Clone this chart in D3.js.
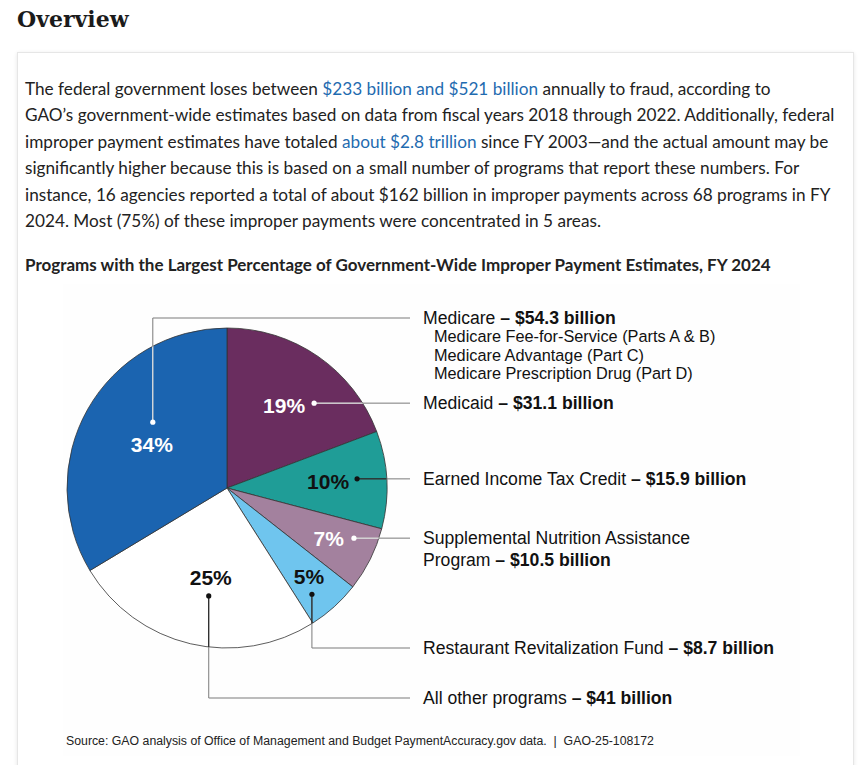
<!DOCTYPE html>
<html lang="en">
<head>
<meta charset="UTF-8">
<title>Overview - Improper Payments FY 2024</title>
<script src="https://d3js.org/d3.v7.min.js"></script>
<style>
    body {
        margin: 0;
        background: #fff;
        width: 858px;
        height: 765px;
        overflow: hidden;
        position: relative;
    }
    h2 {
        position: absolute;
        left: 17px;
        top: 6px;
        margin: 0;
        font-family: "DejaVu Serif", serif;
        font-weight: bold;
        font-size: 22px;
        color: #1b1b1b;
    }
    .card {
        position: absolute;
        left: 17px;
        top: 52px;
        width: 835px;
        height: 760px;
        border: 1px solid #e6e6e6;
        box-shadow: 0 1px 4px rgba(0,0,0,0.10);
        background: #fff;
    }
    .intro {
        position: absolute;
        left: 25px;
        top: 76px;
        font-family: Lato, sans-serif;
        font-size: 17.2px;
        line-height: 26.4px;
        color: #222;
        white-space: nowrap;
    }
    .intro a {
        color: #1f6bb0;
        text-decoration: none;
    }
    .chart-title {
        position: absolute;
        left: 25px;
        top: 254px;
        font-family: Lato, sans-serif;
        font-weight: bold;
        font-size: 17px;
        line-height: 22px;
        color: #222;
        white-space: nowrap;
    }
    #chart {
        position: absolute;
        left: 0;
        top: 0;
    }
</style>
</head>
<body>
    <h2>Overview</h2>
    <div class="card"></div>
    <div class="intro">
        The federal government loses between <a href="#">$233 billion and $521 billion</a> annually to fraud, according to<br>
        GAO’s government-wide estimates based on data from fiscal years 2018 through 2022. Additionally, federal<br>
        improper payment estimates have totaled <a href="#">about $2.8 trillion</a> since FY 2003—and the actual amount may be<br>
        significantly higher because this is based on a small number of programs that report these numbers. For<br>
        instance, 16 agencies reported a total of about $162 billion in improper payments across 68 programs in FY<br>
        2024. Most (75%) of these improper payments were concentrated in 5 areas.
    </div>
    <div class="chart-title">Programs with the Largest Percentage of Government-Wide Improper Payment Estimates, FY 2024</div>
    <svg id="chart" width="858" height="765"></svg>

<script>
    // Data, clockwise from 12 o'clock
    const programs = ["Medicaid", "Earned Income Tax Credit", "Supplemental Nutrition Assistance\nProgram",
                      "Restaurant Revitalization Fund", "All other programs", "Medicare"];
    const amounts = [31.1, 15.9, 10.5, 8.7, 41, 54.3];           // $ billions
    const shares = ["19%", "10%", "7%", "5%", "25%", "34%"];
    const medicareParts = ["Medicare Fee-for-Service (Parts A & B)",
                           "Medicare Advantage (Part C)",
                           "Medicare Prescription Drug (Part D)"];
    const sourceNote = "Source: GAO analysis of Office of Management and Budget PaymentAccuracy.gov data.  |  GAO-25-108172";

    const colors = ["#6a2d5f", "#1f9d97", "#a3819e", "#6fc5ee", "#ffffff", "#1b64b0"];

    // label layout: where the dot sits inside its slice, where the % text sits relative to the dot,
    // and where the callout meets the legend (null = straight across)
    const layout = [
        { t: 0.66, k: 0.76, anchor: "end",    dx: -9,  dy: 10,  ink: "#fff", calloutY: null },
        { t: 0.47, k: 0.815, anchor: "end",   dx: -8,  dy: 10,  ink: "#111", calloutY: null },
        { t: 0.29, k: 0.853, anchor: "end",   dx: -10, dy: 8,   ink: "#fff", calloutY: null },
        { t: 0.68, k: 0.85, anchor: "middle", dx: -3,  dy: -10, ink: "#111", calloutY: 648 },
        { t: 0.46, k: 0.684, anchor: "middle", dx: 2,  dy: -11, ink: "#111", calloutY: 698 },
        { t: 0.60, k: 0.62, anchor: "middle", dx: -1,  dy: 30,  ink: "#fff", calloutY: 318 }
    ];

    const cx = 227, cy = 488, R = 160;
    const legendX = 423, calloutEnd = 410;

    const svg = d3.select("#chart");

    // faint backdrop of the figure
    svg.append("rect")
        .attr("x", 63).attr("y", 284)
        .attr("width", 737).attr("height", 472)
        .attr("fill", "#fefefe");

    const pie = d3.pie().sort(null).value(d => d)(amounts);
    const arc = d3.arc().innerRadius(0).outerRadius(R);

    const g = svg.append("g").attr("transform", `translate(${cx},${cy})`);

    g.selectAll("path.slice")
        .data(pie)
        .enter()
        .append("path")
        .attr("class", "slice")
        .attr("d", arc)
        .attr("fill", (d, i) => colors[i])
        .attr("stroke", "#333")
        .attr("stroke-width", 0.8);

    // clip so the part of each callout inside the pie takes the label colour
    svg.append("clipPath").attr("id", "pie-clip")
        .append("circle").attr("cx", 0).attr("cy", 0).attr("r", R);

    const polar = (a, r) => [r * Math.sin(a), -r * Math.cos(a)];

    const fontChart = "'Liberation Sans', Arial, sans-serif";

    pie.forEach((d, i) => {
        const L = layout[i];
        const a = d.startAngle + L.t * (d.endAngle - d.startAngle);
        const [px, py] = polar(a, L.k * R);
        const legendY = L.calloutY === null ? py + cy : L.calloutY;

        const path = d3.path();
        path.moveTo(px, py);
        if (L.calloutY !== null) path.lineTo(px, legendY - cy);
        path.lineTo(calloutEnd - cx, legendY - cy);

        g.append("path").attr("d", path.toString())
            .attr("fill", "none").attr("stroke", "#7a7a7a").attr("stroke-width", 1);
        g.append("path").attr("d", path.toString())
            .attr("clip-path", "url(#pie-clip)")
            .attr("fill", "none").attr("stroke", L.ink).attr("stroke-width", 1);

        g.append("circle").attr("cx", px).attr("cy", py).attr("r", 2.6).attr("fill", L.ink);

        g.append("text")
            .attr("x", px + L.dx).attr("y", py + L.dy)
            .attr("text-anchor", L.anchor)
            .attr("font-family", fontChart)
            .attr("font-weight", "bold")
            .attr("font-size", 21)
            .attr("fill", L.ink)
            .text(shares[i]);

        // legend entry
        const lines = programs[i].split("\n");
        const t = svg.append("text")
            .attr("x", legendX).attr("y", legendY + 6)
            .attr("font-family", fontChart)
            .attr("font-size", 17.6)
            .attr("fill", "#111");
        lines.forEach((ln, j) => {
            const last = j === lines.length - 1;
            t.append("tspan")
                .attr("x", legendX)
                .attr("dy", j === 0 ? 0 : 22)
                .text(last ? ln + " " : ln);
            if (last) {
                t.append("tspan").attr("font-weight", "bold")
                    .text(`– $${amounts[i]} billion`);
            }
        });

        if (programs[i] === "Medicare") {
            svg.append("g").selectAll("text")
                .data(medicareParts)
                .enter()
                .append("text")
                .attr("x", legendX + 11)
                .attr("y", (p, j) => legendY + 6 + 18.5 * (j + 1) - 0.5)
                .attr("font-family", fontChart)
                .attr("font-size", 16.3)
                .attr("fill", "#111")
                .text(p => p);
        }
    });

    svg.append("text")
        .attr("x", 66).attr("y", 745)
        .attr("font-family", fontChart)
        .attr("font-size", 12.3)
        .attr("fill", "#222")
        .attr("xml:space", "preserve")
        .style("white-space", "pre")
        .text(sourceNote);
</script>
</body>
</html>
